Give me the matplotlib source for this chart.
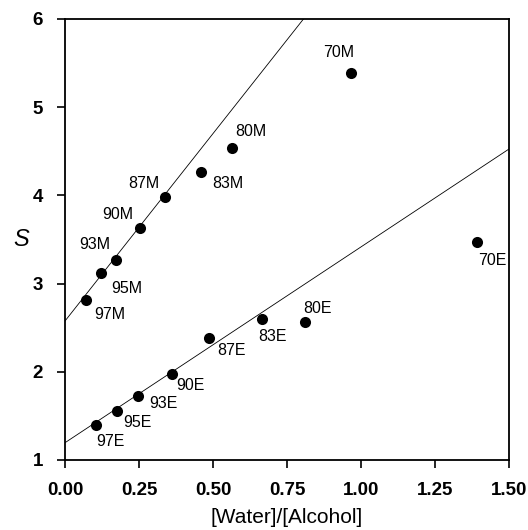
import matplotlib
matplotlib.use("Agg")
import numpy as np
import matplotlib.pyplot as plt

# methanol series
m_labels = ["97M", "95M", "93M", "90M", "87M", "83M", "80M", "70M"]
m_x = [0.071, 0.120, 0.171, 0.254, 0.338, 0.461, 0.563, 0.965]
m_s = [2.81, 3.12, 3.27, 3.63, 3.98, 4.27, 4.54, 5.39]

# ethanol series
e_labels = ["97E", "95E", "93E", "90E", "87E", "83E", "80E", "70E"]
e_x = [0.104, 0.175, 0.247, 0.361, 0.486, 0.664, 0.812, 1.391]
e_s = [1.40, 1.56, 1.73, 1.98, 2.38, 2.60, 2.57, 3.47]

# fitted lines (intercept, slope)
m_fit = (2.576, 4.25)
e_fit = (1.196, 2.22)

x_ticks = [0.00, 0.25, 0.50, 0.75, 1.00, 1.25, 1.50]
y_ticks = [1, 2, 3, 4, 5, 6]

# label placement: dx, dy in pixels (dy positive = down), alignment
label_pos = {
    "97M": (8, 14, "left"), "95M": (11, 15, "left"), "93M": (-5, -15, "right"),
    "90M": (-7, -14, "right"), "87M": (-6, -14, "right"), "83M": (11, 12, "left"),
    "80M": (4, -16, "left"), "70M": (4, -20, "right"),
    "97E": (0, 17, "left"), "95E": (6, 12, "left"), "93E": (11, 8, "left"),
    "90E": (4, 12, "left"), "87E": (8, 12, "left"), "83E": (-3, 18, "left"),
    "80E": (-2, -13, "left"), "70E": (1, 18, "left"),
}

plt.rcParams["font.family"] = ["Liberation Sans", "DejaVu Sans"]

fig = plt.figure(figsize=(5.28, 5.30), dpi=100)
ax = fig.add_axes([65 / 528, 70 / 530, 444 / 528, 441 / 530])

xx = np.array([0.0, 1.5])
for b0, b1 in (m_fit, e_fit):
    ax.plot(xx, b0 + b1 * xx, color="black", lw=0.6, zorder=1)

ax.scatter(m_x + e_x, m_s + e_s, s=64, color="black", zorder=2, linewidths=0)

px = 0.72  # points per pixel at dpi 100
for lab, x, y in zip(m_labels + e_labels, m_x + e_x, m_s + e_s):
    dx, dy, ha = label_pos[lab]
    ax.annotate(lab, (x, y), xytext=(dx * px, -dy * px), textcoords="offset points",
                ha=ha, va="center", fontsize=11.5)

ax.set_xlim(0, 1.5)
ax.set_ylim(1, 6)
ax.set_xticks(x_ticks)
ax.set_yticks(y_ticks)
ax.set_xticklabels([f"{v:.2f}" for v in x_ticks], fontweight="bold", fontsize=13.5)
ax.set_yticklabels([str(v) for v in y_ticks], fontweight="bold", fontsize=13.5)
ax.tick_params(direction="out", length=6, width=1.2, top=False, right=False, pad=10)
for sp in ax.spines.values():
    sp.set_linewidth(1.3)

ax.set_xlabel("[Water]/[Alcohol]", fontsize=15, labelpad=6)
ax.set_ylabel("S", fontsize=17, style="italic", rotation=0, labelpad=8, va="center")

fig.savefig("out.png", dpi=100)
